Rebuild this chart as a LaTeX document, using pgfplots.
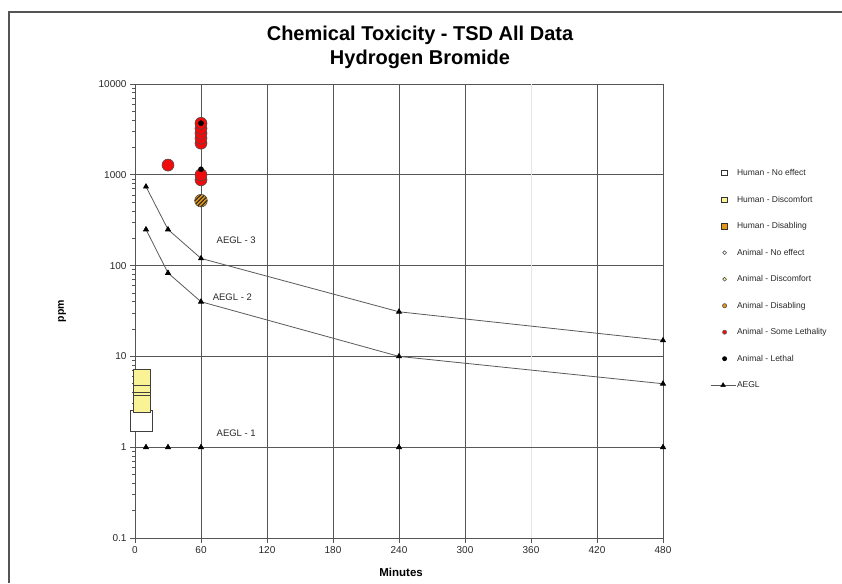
\documentclass[border=0pt]{standalone}
\usepackage{pgfplots}
\pgfplotsset{compat=1.18}
\usepackage{fontspec}
\setmainfont{Liberation Sans}
\definecolor{gridc}{RGB}{85,85,85}
\definecolor{hyellow}{RGB}{250,243,150}
\definecolor{dorange}{RGB}{228,150,25}
\definecolor{lred}{RGB}{240,12,12}
\definecolor{txt}{RGB}{40,40,40}
\pgfdeclareplotmark{hatchcirc}{%
  \pgfsetfillcolor{dorange}%
  \pgfpathcircle{\pgfpointorigin}{\pgfplotmarksize}%
  \pgfusepathqfill
  \begin{pgfscope}
    \pgfpathcircle{\pgfpointorigin}{\pgfplotmarksize}%
    \pgfusepathqclip
    \pgfsetlinewidth{1.0pt}%
    \pgfsetstrokecolor{black!85}%
    \pgfpathmoveto{\pgfpoint{-10pt}{-24pt}}\pgfpathlineto{\pgfpoint{10pt}{-4pt}}%
    \pgfpathmoveto{\pgfpoint{-10pt}{-20pt}}\pgfpathlineto{\pgfpoint{10pt}{0pt}}%
    \pgfpathmoveto{\pgfpoint{-10pt}{-16pt}}\pgfpathlineto{\pgfpoint{10pt}{4pt}}%
    \pgfpathmoveto{\pgfpoint{-10pt}{-12pt}}\pgfpathlineto{\pgfpoint{10pt}{8pt}}%
    \pgfpathmoveto{\pgfpoint{-10pt}{-8pt}}\pgfpathlineto{\pgfpoint{10pt}{12pt}}%
    \pgfpathmoveto{\pgfpoint{-10pt}{-4pt}}\pgfpathlineto{\pgfpoint{10pt}{16pt}}%
    \pgfpathmoveto{\pgfpoint{-10pt}{0pt}}\pgfpathlineto{\pgfpoint{10pt}{20pt}}%
    \pgfpathmoveto{\pgfpoint{-10pt}{4pt}}\pgfpathlineto{\pgfpoint{10pt}{24pt}}%
    \pgfusepathqstroke
  \end{pgfscope}
  \pgfpathcircle{\pgfpointorigin}{\pgfplotmarksize}%
  \pgfusepathqstroke
}
\begin{document}
\begin{tikzpicture}
\useasboundingbox (0pt,0pt) rectangle (842pt,-583pt);
\draw[gridc, line width=1.3pt] (9pt,-583pt) -- (9pt,-12pt) -- (842pt,-12pt);
\node[font=\bfseries\fontsize{20}{23}\selectfont, anchor=base] at (420pt,-41pt) {Chemical Toxicity - TSD All Data};
\node[font=\bfseries\fontsize{20}{23}\selectfont, anchor=base] at (420pt,-65pt) {Hydrogen Bromide};
\begin{axis}[
  at={(135pt,-538pt)}, anchor=south west,
  width=528pt, height=454pt, scale only axis,
  xmin=0, xmax=480, ymin=0.1, ymax=10000, ymode=log,
  clip=false,
  axis line style={gridc, line width=0.9pt},
  xtick={0,60,120,180,240,300,420,480},
  xticklabels={0,60,120,180,240,300,420,480},
  extra x ticks={360}, extra x tick labels={360},
  extra x tick style={grid style={black!10, line width=0.6pt}},
  ytick={0.1,1,10,100,1000,10000},
  yticklabels={0.1,1,10,100,1000,10000},
  minor ytick={0.2,0.3,0.4,0.5,0.6,0.7,0.8,0.9,2,3,4,5,6,7,8,9,20,30,40,50,60,70,80,90,200,300,400,500,600,700,800,900,2000,3000,4000,5000,6000,7000,8000,9000},
  xmajorgrids, ymajorgrids,
  grid style={gridc, line width=0.9pt},
  tick align=outside, tick pos=left,
  major tick length=5pt, minor tick length=3pt,
  tick style={gridc, line width=0.8pt},
  ticklabel style={font=\fontsize{10}{12}\selectfont, text=txt},
  xlabel={Minutes},
  xlabel style={font=\bfseries\fontsize{11.5}{13}\selectfont, at={(axis description cs:0.504,-0.075)}, anchor=center},
  ylabel={ppm},
  ylabel style={font=\bfseries\fontsize{10.5}{12}\selectfont, at={(axis description cs:-0.138,0.5)}, anchor=center},
  legend style={draw=none, fill=none, inner sep=0pt, at={(1.089,0.815)}, anchor=north west,
    font=\fontsize{8.5}{10}\selectfont, row sep=16.5pt,
    nodes={inner sep=1pt, text height=6.5pt, text depth=1.5pt, text=txt}},
  legend cell align=left,
]
% AEGL lines
\addplot[black!65, line width=0.8pt, mark=triangle*, mark size=2.8pt, mark options={black, fill=black}, forget plot]
  coordinates {(10,740)(30,250)(60,120)(240,31)(480,15)};
\addplot[black!65, line width=0.8pt, mark=triangle*, mark size=2.8pt, mark options={black, fill=black}, forget plot]
  coordinates {(10,250)(30,83)(60,40)(240,10)(480,5)};
\addplot[black!65, line width=0.8pt, mark=triangle*, mark size=2.8pt, mark options={black, fill=black}, forget plot]
  coordinates {(10,1)(30,1)(60,1)(240,1)(480,1)};
% Human - No effect
\addplot[only marks, mark=square*, mark size=10.8pt, mark options={draw=black!75, fill=white, line width=0.8pt}, forget plot]
  coordinates {(6,1.94)};
% Human - Discomfort
\addplot[only marks, mark=square*, mark size=8.5pt, mark options={draw=black!75, fill=hyellow, line width=0.8pt}, forget plot]
  coordinates {(6,5.81)(6,3.87)(6,3.27)(6,2.98)};
% Animal - Some Lethality
\addplot[only marks, mark=*, mark size=6pt, mark options={draw=black!70, fill=lred, line width=0.6pt}, forget plot]
  coordinates {(30,1280)(60,880)(60,1000)(60,2230)(60,2530)(60,2870)(60,3250)(60,3690)};
% Animal - Disabling
\addplot[only marks, mark=hatchcirc, mark size=6.3pt, mark options={draw=black!70, line width=0.6pt}, forget plot]
  coordinates {(60,519)};
% Animal - Lethal
\addplot[only marks, mark=*, mark size=2.6pt, mark options={draw=black, fill=black}, forget plot]
  coordinates {(60,3700)(60,1150)};
% labels
\node[font=\fontsize{9.5}{11}\selectfont, text=txt] at (axis cs:92,188) {AEGL - 3};
\node[font=\fontsize{9.5}{11}\selectfont, text=txt] at (axis cs:88.5,45) {AEGL - 2};
\node[font=\fontsize{9.5}{11}\selectfont, text=txt] at (axis cs:92,1.43) {AEGL - 1};
% legend
\addlegendimage{legend image code/.code={\path[draw=none,fill=none] (0pt,0pt) rectangle (25pt,0.1pt); \draw[black!80, fill=white, line width=0.9pt] (11.3pt,-2.7pt) rectangle (16.7pt,2.7pt);}}
\addlegendentry{Human - No effect}
\addlegendimage{legend image code/.code={\path[draw=none,fill=none] (0pt,0pt) rectangle (25pt,0.1pt); \draw[black!80, fill=hyellow, line width=0.9pt] (11.3pt,-2.7pt) rectangle (16.7pt,2.7pt);}}
\addlegendentry{Human - Discomfort}
\addlegendimage{legend image code/.code={\path[draw=none,fill=none] (0pt,0pt) rectangle (25pt,0.1pt); \draw[black!80, fill=dorange, line width=0.9pt] (10.8pt,-3.2pt) rectangle (17.2pt,3.2pt);}}
\addlegendentry{Human - Disabling}
\addlegendimage{legend image code/.code={\path[draw=none,fill=none] (0pt,0pt) rectangle (25pt,0.1pt); \draw[black!70, fill=white, line width=0.6pt] (14pt,0pt) circle (1.9pt);}}
\addlegendentry{Animal - No effect}
\addlegendimage{legend image code/.code={\path[draw=none,fill=none] (0pt,0pt) rectangle (25pt,0.1pt); \draw[black!70, fill=hyellow, line width=0.6pt] (14pt,0pt) circle (1.9pt);}}
\addlegendentry{Animal - Discomfort}
\addlegendimage{legend image code/.code={\path[draw=none,fill=none] (0pt,0pt) rectangle (25pt,0.1pt); \draw[black!70, fill=dorange, line width=0.6pt] (14pt,0pt) circle (2.1pt);}}
\addlegendentry{Animal - Disabling}
\addlegendimage{legend image code/.code={\path[draw=none,fill=none] (0pt,0pt) rectangle (25pt,0.1pt); \draw[black!60, fill=lred, line width=0.6pt] (14pt,0pt) circle (2.1pt);}}
\addlegendentry{Animal - Some Lethality}
\addlegendimage{legend image code/.code={\path[draw=none,fill=none] (0pt,0pt) rectangle (25pt,0.1pt); \draw[black, fill=black, line width=0.6pt] (14pt,0pt) circle (2.1pt);}}
\addlegendentry{Animal - Lethal}
\addlegendimage{legend image code/.code={\draw[black!65, line width=0.8pt] (0pt,0pt) -- (25pt,0pt); \fill[black] (12.5pt,2.6pt) -- (10.2pt,-1.4pt) -- (14.8pt,-1.4pt) -- cycle;}}
\addlegendentry{AEGL}
\end{axis}
\end{tikzpicture}
\end{document}
